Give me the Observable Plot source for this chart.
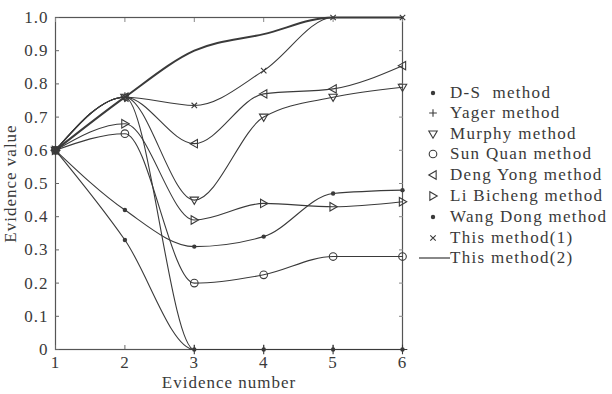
<!DOCTYPE html>
<html><head><meta charset="utf-8">
<script src="https://cdn.jsdelivr.net/npm/d3@7"></script>
<script src="https://cdn.jsdelivr.net/npm/@observablehq/plot@0.6"></script>
<style>
body{margin:0;background:#fff;}
#wrap{position:relative;width:612px;height:394px;font-family:"Liberation Serif",serif;color:#3a3a3a;}
#legend{position:absolute;left:0;top:0;width:612px;height:394px;pointer-events:none;}
.row{position:absolute;left:412px;height:20px;display:flex;align-items:center;font-size:17px;letter-spacing:1.3px;white-space:pre;}
.row svg{flex:none;}
</style>
</head><body>
<div id="wrap"><div id="chart"></div><div id="legend"></div></div>
<script>
// ---- data ----
const evidence = [1, 2, 3, 4, 5, 6];
const dsMethod      = [0.60, 0.33, 0.00, 0.00, 0.00, 0.00];
const yagerMethod   = [0.60, 0.76, 0.00, 0.00, 0.00, 0.00];
const murphyMethod  = [0.60, 0.76, 0.45, 0.70, 0.76, 0.79];
const sunQuanMethod = [0.60, 0.65, 0.20, 0.225, 0.28, 0.28];
const dengYongMethod= [0.60, 0.76, 0.62, 0.77, 0.785, 0.855];
const liBichengMethod=[0.60, 0.68, 0.39, 0.44, 0.43, 0.445];
const wangDongMethod= [0.60, 0.42, 0.31, 0.34, 0.47, 0.48];
const thisMethod1   = [0.60, 0.76, 0.735, 0.84, 1.00, 1.00];
const thisMethod2   = [0.60, 0.76, 0.90, 0.95, 1.00, 1.00];
const yTicks = [0, 0.1, 0.2, 0.3, 0.4, 0.5, 0.6, 0.7, 0.8, 0.9, 1.0];
const xTicks = [1, 2, 3, 4, 5, 6];
const seriesNames = ["D-S  method","Yager method","Murphy method","Sun Quan method","Deng Yong method","Li Bicheng method","Wang Dong method","This method(1)","This method(2)"];
const seriesValues = [dsMethod, yagerMethod, murphyMethod, sunQuanMethod, dengYongMethod, liBichengMethod, wangDongMethod, thisMethod1, thisMethod2];

// ---- symbols ----
const poly = pts => ({draw(ctx, size){const r=Math.sqrt(size/Math.PI);pts.forEach(([a,b],i)=>i?ctx.lineTo(a*r,b*r):ctx.moveTo(a*r,b*r));ctx.closePath();}});
const triDown = poly([[-1,-0.7],[1,-0.7],[0,1]]);
const triLeft = poly([[-1,0],[0.75,-1],[0.75,1]]);
const triRight = poly([[1,0],[-0.75,-1],[-0.75,1]]);
const ink = "#3a3a3a";
const styles = [
  {symbol:"circle", r:2.2, fill:ink},
  {symbol:"plus", r:3.2, stroke:ink},
  {symbol:triDown, r:4.2, stroke:ink},
  {symbol:"circle", r:3.8, stroke:ink},
  {symbol:triLeft, r:4.2, stroke:ink},
  {symbol:triRight, r:4.2, stroke:ink},
  {symbol:"circle", r:2.2, fill:ink},
  {symbol:"times", r:2.6, stroke:ink},
  null
];

const rows = seriesValues.map((vals, si) => vals.map((v, i) => ({x: evidence[i], y: v, s: seriesNames[si], si})));

const marks = [];
rows.forEach((r, si) => {
  marks.push(Plot.line(r, {x:"x", y:"y", curve:"monotone-x", stroke:ink, strokeWidth: si===8 ? 2 : 1.1}));
});
rows.forEach((r, si) => {
  const st = styles[si];
  if (!st) return;
  marks.push(Plot.dot(r, {x:"x", y:"y", symbol:st.symbol, r:st.r, fill:st.fill||"none", stroke:st.stroke||"none", strokeWidth:1.1}));
});

const fmt = d => d === 0 ? "0" : d.toFixed(1);
const chart = Plot.plot({
  width: 612, height: 394,
  marginLeft: 55, marginTop: 17, marginRight: 210, marginBottom: 45,
  x: {domain:[1,6]},
  y: {domain:[0,1]},
  style: {fontFamily:'"Liberation Serif", serif', fontSize:"17px", color:"#3a3a3a", background:"white"},
  marks: [
    Plot.frame({stroke:"#555", strokeWidth:1.2}),
    Plot.axisY({ticks:yTicks, tickSize:0, tickPadding:7, tickFormat:fmt, label:"Evidence value", labelArrow:"none", labelAnchor:"center", labelOffset:52}),
    Plot.axisY({ticks:yTicks, tickSize:-4, text:null, label:null, stroke:"#666"}),
    Plot.axisY({anchor:"right", ticks:yTicks, tickSize:-4, text:null, label:null, stroke:"#888"}),
    Plot.axisX({ticks:xTicks, tickSize:0, tickPadding:6, tickFormat:d=>String(d), label:"Evidence number", labelArrow:"none", labelAnchor:"center", labelOffset:38}),
    Plot.axisX({ticks:xTicks, tickSize:-4, text:null, label:null, stroke:"#666"}),
    Plot.axisX({anchor:"top", ticks:xTicks, tickSize:-4, text:null, label:null, stroke:"#888"}),
    ...marks
  ]
});
document.getElementById("chart").append(chart);
d3.select(chart).selectAll("text").style("letter-spacing","1px");

// ---- legend ----
const legend = d3.select("#legend");
const rowY = [93, 113, 134, 154, 175, 196, 217, 238, 258];
seriesNames.forEach((name, i) => {
  const row = legend.append("div").attr("class","row").style("top", (rowY[i]-10)+"px");
  const svg = row.append("svg").attr("width", 38).attr("height", 20);
  const st = styles[i];
  if (st) {
    const size = Math.PI*st.r*st.r;
    const sym = typeof st.symbol === "string" ? {circle:d3.symbolCircle, plus:d3.symbolCross, times:d3.symbolTimes}[st.symbol] : st.symbol;
    let path;
    if (st.symbol === "plus") path = `M${-st.r*1.2},0H${st.r*1.2}M0,${-st.r*1.2}V${st.r*1.2}`;
    else path = d3.symbol(sym, size)();
    svg.append("path").attr("d", path).attr("transform","translate(21,10)")
      .attr("fill", st.fill||"none").attr("stroke", st.stroke||"none").attr("stroke-width",1.1);
  } else {
    svg.append("line").attr("x1",7).attr("x2",38).attr("y1",10).attr("y2",10).attr("stroke",ink).attr("stroke-width",1.2);
  }
  row.append("span").text(name);
});
</script>
</body></html>
